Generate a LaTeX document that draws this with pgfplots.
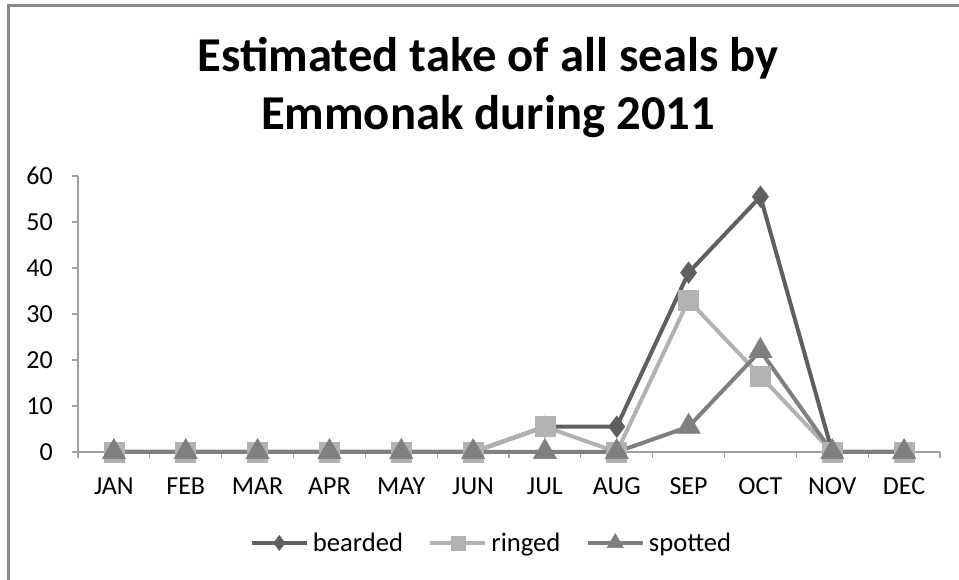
\documentclass[border=0pt]{standalone}
\usepackage{fontspec}
\setmainfont{Carlito}
\usepackage{pgfplots}
\pgfplotsset{compat=1.18}
\definecolor{cbeard}{HTML}{5F5F5F}
\definecolor{cring}{HTML}{B2B2B2}
\definecolor{cspot}{HTML}{7F7F7F}
\definecolor{axgray}{HTML}{A0A0A0}
\definecolor{framegray}{HTML}{888888}
\begin{document}
\begin{tikzpicture}[x=0.75pt,y=0.75pt]
\path[use as bounding box] (0,0) rectangle (959,580);
\draw[framegray, line width=1.6pt] (8.5,0) -- (8.5,574.5) -- (959,574.5);
\node[font=\fontsize{36.5}{40}\selectfont\bfseries, anchor=base, inner sep=0pt] at (488,508) {Estimated take of all seals by};
\node[font=\fontsize{36.5}{40}\selectfont\bfseries, anchor=base, inner sep=0pt] at (488,450) {Emmonak during 2011};
\begin{axis}[
  at={(58.5pt,96pt)}, anchor=south west,
  scale only axis, width=646.5pt, height=207pt,
  clip=false,
  xmin=-0.5, xmax=11.5, ymin=0, ymax=60,
  axis x line*=bottom, axis y line*=left,
  axis line style={axgray, line width=0.8pt},
  xtick={0,...,11},
  xticklabels={JAN,FEB,MAR,APR,MAY,JUN,JUL,AUG,SEP,OCT,NOV,DEC},
  minor xtick={-0.5,0.5,...,11.5},
  ytick={0,10,...,60},
  tick align=outside,
  major tick length=4.5pt, minor tick length=4.5pt,
  xtick style={draw=none},
  minor x tick style={draw=axgray, line width=0.8pt},
  ytick style={draw=axgray, line width=0.8pt},
  tick label style={font=\fontsize{19.5}{22}\selectfont},
  /pgf/number format/assume math mode=true,
  yticklabel style={anchor=east, inner sep=0pt, xshift=-14.25pt},
  xticklabel style={anchor=base, yshift=-27.75pt},
  legend columns=3,
  legend style={draw=none, fill=none, at={(axis description cs:0.4809,-0.3297)}, anchor=center,
    font=\fontsize{20}{22}\selectfont,
    nodes={inner xsep=3pt},
    /tikz/every even column/.append style={column sep=16pt}},
  legend image code/.code={\draw[mark repeat=2,mark phase=2,/tikz/every mark/.append style={scale=0.7}] plot coordinates {(0cm,0cm) (0.725cm,0cm) (1.45cm,0cm)};},
]
\addplot[cbeard, line width=3pt, mark=diamond*, mark size=8pt, mark options={solid, fill=cbeard, draw=cbeard, line width=0.5pt}]
  coordinates {(0,0) (1,0) (2,0) (3,0) (4,0) (5,0) (6,5.5) (7,5.5) (8,39) (9,55.5) (10,0) (11,0)};
\addlegendentry{bearded}
\addplot[cring, line width=3pt, mark=square*, mark size=7.5pt, mark options={solid, fill=cring, draw=cring, line width=0.5pt}]
  coordinates {(0,0) (1,0) (2,0) (3,0) (4,0) (5,0) (6,5.5) (7,0) (8,33) (9,16.5) (10,0) (11,0)};
\addlegendentry{ringed}
\addplot[cspot, line width=3pt, mark=triangle*, mark size=10pt, mark options={solid, fill=cspot, draw=cspot, line width=0.5pt}]
  coordinates {(0,0) (1,0) (2,0) (3,0) (4,0) (5,0) (6,0) (7,0) (8,5.5) (9,22) (10,0) (11,0)};
\addlegendentry{spotted}
\end{axis}
\end{tikzpicture}
\end{document}
